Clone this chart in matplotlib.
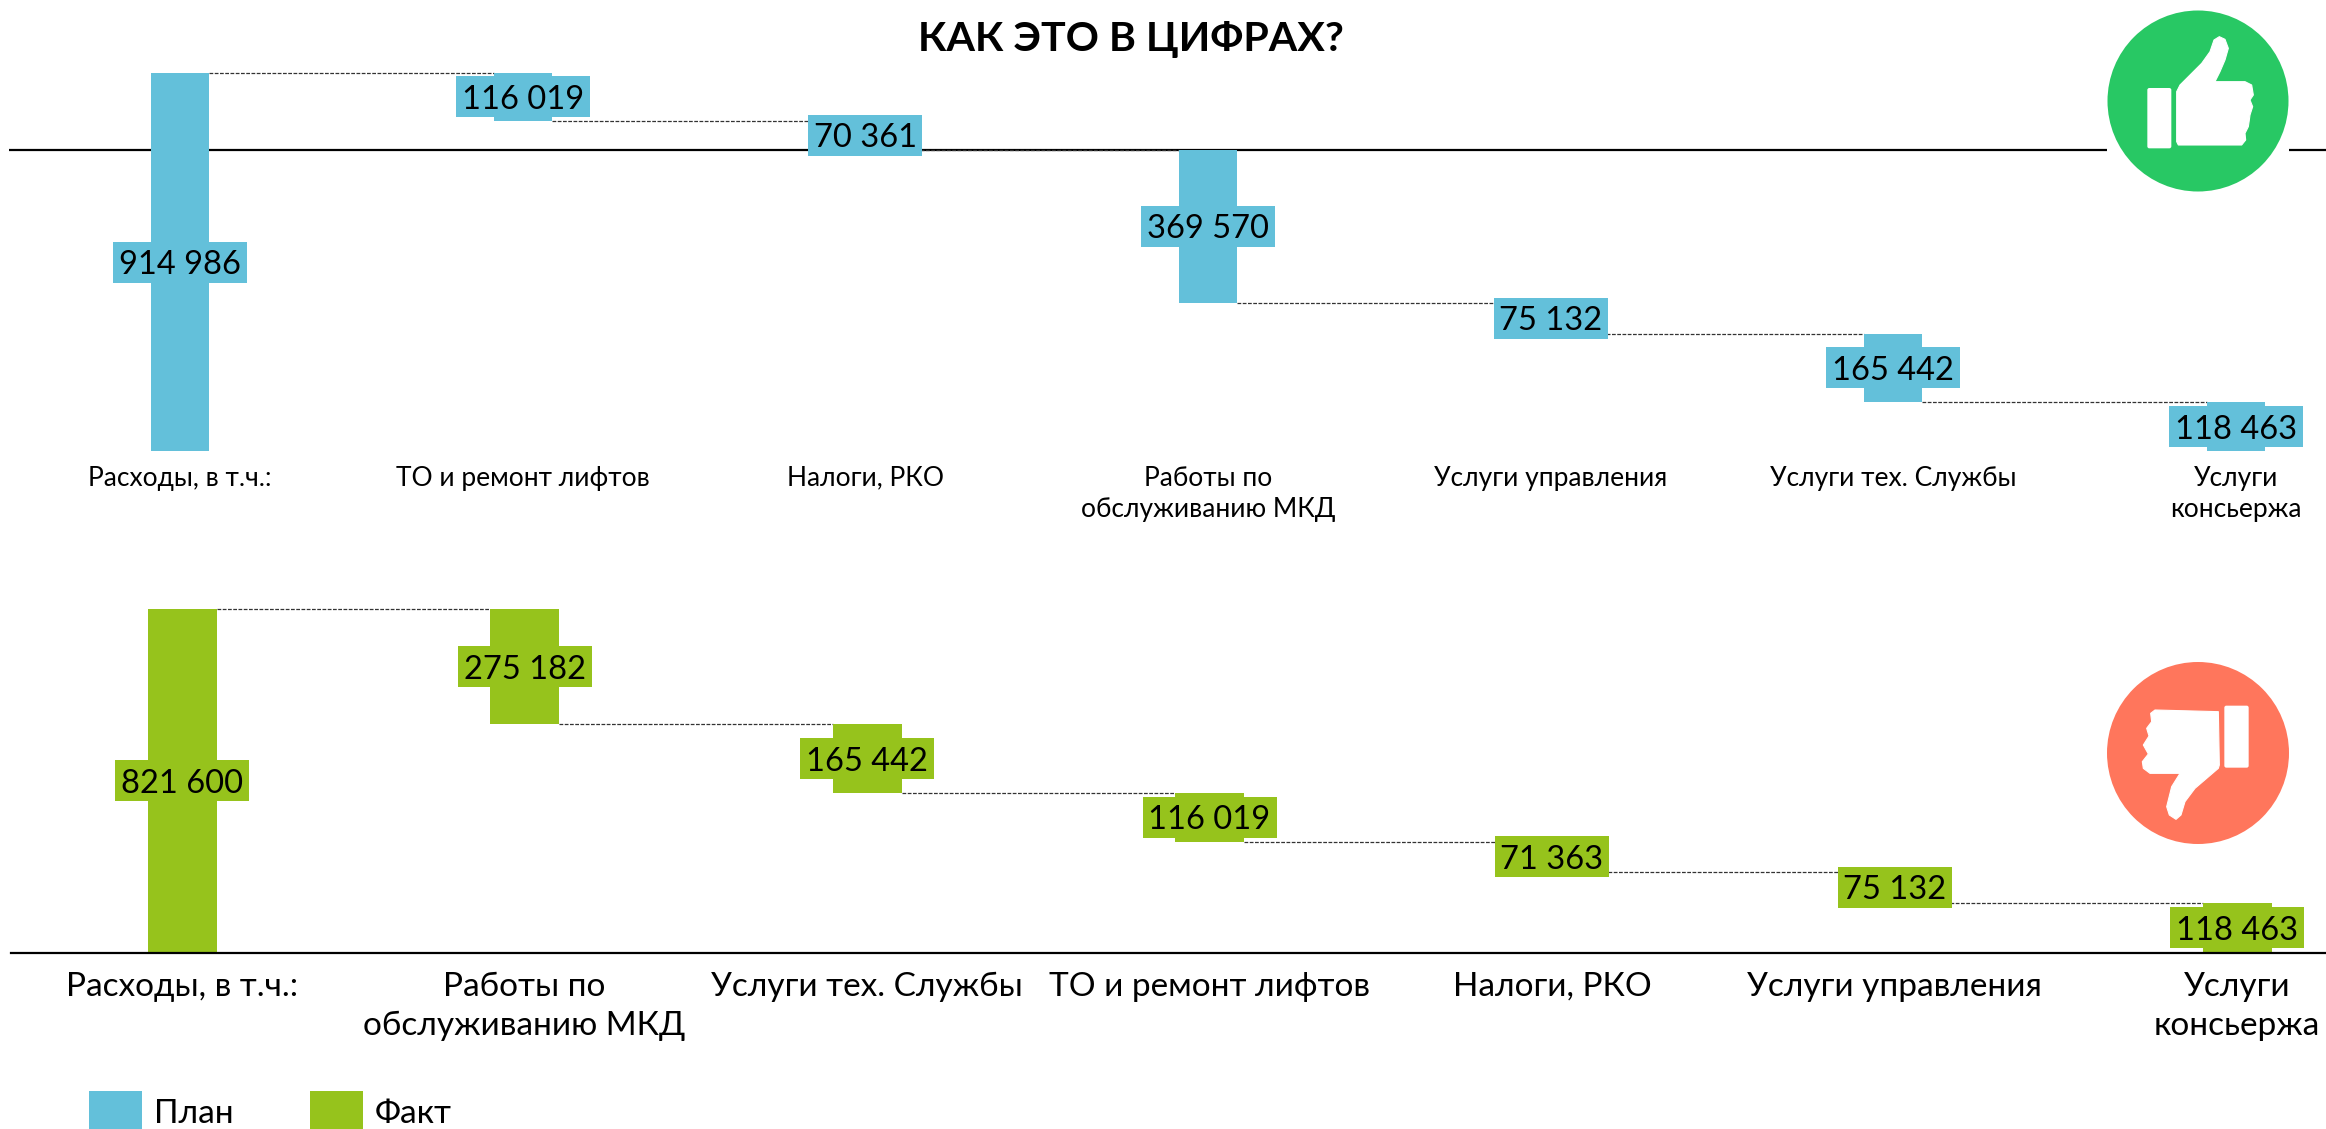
# waterfall plan / fact chart
import numpy as np
import matplotlib
matplotlib.use('Agg')
import matplotlib.pyplot as plt
from matplotlib.patches import Rectangle, Circle, Polygon, FancyBboxPatch

plt.rcParams['font.family'] = ['Lato', 'Open Sans']

W, H = 2326, 1129

title = 'КАК ЭТО В ЦИФРАХ?'

# plan chart
plan_labels = ['Расходы, в т.ч.:', 'ТО и ремонт лифтов', 'Налоги, РКО', 'Работы по\nобслуживанию МКД',
               'Услуги управления', 'Услуги тех. Службы', 'Услуги\nконсьержа']
plan_values = [914986, 116019, 70361, 369570, 75132, 165442, 118463]
plan_line_value = 728606

# fact chart
fact_labels = ['Расходы, в т.ч.:', 'Работы по\nобслуживанию МКД', 'Услуги тех. Службы', 'ТО и ремонт лифтов',
               'Налоги, РКО', 'Услуги управления', 'Услуги\nконсьержа']
fact_values = [821600, 275182, 165442, 116019, 71363, 75132, 118463]

legend_names = ['План', 'Факт']

BLUE = '#63C0DA'
GREEN = '#96C31C'
LIKE = '#28C864'
DISLIKE = '#FF765C'


def px_axes(fig, left, top, right, bottom):
    # axes placed by pixel edges of the picture
    ax = fig.add_axes([left / W, 1 - bottom / H, (right - left) / W, (bottom - top) / H])
    ax.patch.set_alpha(0)
    return ax


def waterfall(ax, values, labels, color, x0, step, bar_px, label_size, spacing, pad, left_px):
    values = np.array(values)
    x = np.arange(len(values))
    tops = np.r_[values[0], values[0], values[0] - np.cumsum(values[1:-1])]
    bottoms = tops - values
    bottoms[0] = 0
    px_per_value = ax.get_window_extent().height / values[0]

    ax.set_xlim((left_px - x0) / step, (W - x0) / step)
    ax.set_ylim(0, values[0])
    ax.bar(x, values, bottom=bottoms, width=bar_px / step, color=color, zorder=3)

    # dashed connectors between the steps
    for i in range(len(values) - 1):
        y = bottoms[i + 1] + values[i + 1]
        ax.plot([x[i] + bar_px / step / 2, x[i + 1] - bar_px / step / 2], [y, y], color='#333333',
                lw=0.9, ls=(0, (3, 1.2)), clip_on=False, zorder=2)

    # value labels sit on a box of the bar colour
    for i, v in enumerate(values):
        text = f'{v:,}'.replace(',', ' ')
        box_w = (134 if len(text) > 6 else 114) / step
        box_h = 41 / px_per_value
        mid = bottoms[i] + v / 2
        ax.add_patch(Rectangle((x[i] - box_w / 2, mid - box_h / 2), box_w, box_h, color=color, lw=0,
                               zorder=4, clip_on=False))
        ax.text(x[i], mid, text, ha='center', va='center_baseline', fontsize=23.5, color='black', zorder=5)

    ax.set_xticks(x)
    ax.set_xticklabels(labels, fontsize=label_size, color='black', linespacing=spacing)
    ax.tick_params(axis='x', length=0, pad=pad)
    ax.set_yticks([])
    for s in ax.spines.values():
        s.set_visible(False)


fig = plt.figure(figsize=(W / 100, H / 100), dpi=100, facecolor='white')

ax1 = px_axes(fig, 9, 73, W, 451)
waterfall(ax1, plan_values, plan_labels, BLUE, 180, 342.67, 58, 19, 1.3, 10.5, 9)
ax1.axhline(plan_line_value, color='black', lw=1.6, zorder=1)

ax2 = px_axes(fig, 11, 609, W, 952.5)
waterfall(ax2, fact_values, fact_labels, GREEN, 182, 342.5, 69, 24, 1.38, 14, 11)
ax2.spines['bottom'].set_visible(True)
ax2.spines['bottom'].set_linewidth(1.6)
ax2.spines['bottom'].set_zorder(6)

# overlay in picture pixels for title, legend and the two icons
ov = fig.add_axes([0, 0, 1, 1], zorder=10)
ov.set_xlim(0, W)
ov.set_ylim(H, 0)
ov.axis('off')

ov.text(1131, 39, title, ha='center', va='center', fontsize=29.6, fontweight='bold', color='black')

for name, color, sq_x, txt_x in zip(legend_names, [BLUE, GREEN], [89, 310], [154, 375]):
    ov.add_patch(Rectangle((sq_x, 1091), 53, 45, color=color, lw=0))
    ov.text(txt_x, 1114, name, ha='left', va='center', fontsize=24, color='black')

# green icon, outline read in 3x crop coordinates
ov.add_patch(Rectangle((2107, 11), 182, 181, color='white', lw=0))
ov.add_patch(Circle((2198, 101), 90.5, color=LIKE, lw=0))
up_hand = np.array([(290, 215), (300, 195), (330, 165), (365, 130), (390, 95), (402, 60), (418, 50), (435, 58),
                    (445, 85), (435, 120), (420, 155), (405, 185), (495, 185), (515, 195), (520, 225), (510, 240),
                    (518, 260), (510, 285), (508, 300), (505, 320), (495, 340), (497, 360), (485, 375), (295, 375),
                    (290, 365)], dtype=float)
ov.add_patch(Polygon(up_hand / 3 + [2080, 20], closed=True, fc='white', ec='white', lw=0.8, joinstyle='round'))
ov.add_patch(FancyBboxPatch((2080 + 202 / 3, 20 + 204 / 3), 72 / 3, 181 / 3, boxstyle='round,pad=0,rounding_size=2',
                            fc='white', ec='none'))

# red icon
ov.add_patch(Circle((2198, 753), 91, color=DISLIKE, lw=0))
down_hand = np.array([(415, 185), (225, 180), (212, 190), (215, 215), (200, 235), (207, 258), (190, 285), (205, 312),
                      (187, 335), (190, 355), (210, 370), (300, 370), (275, 410), (260, 470), (268, 495), (288, 508),
                      (303, 495), (315, 455), (345, 415), (415, 355), (418, 345)], dtype=float)
ov.add_patch(Polygon(down_hand / 3 + [2080, 650], closed=True, fc='white', ec='white', lw=0.8, joinstyle='round'))
ov.add_patch(FancyBboxPatch((2080 + 433 / 3, 650 + 167 / 3), 73 / 3, 186 / 3, boxstyle='round,pad=0,rounding_size=2',
                            fc='white', ec='none'))

plt.savefig('out.png', dpi=100)
